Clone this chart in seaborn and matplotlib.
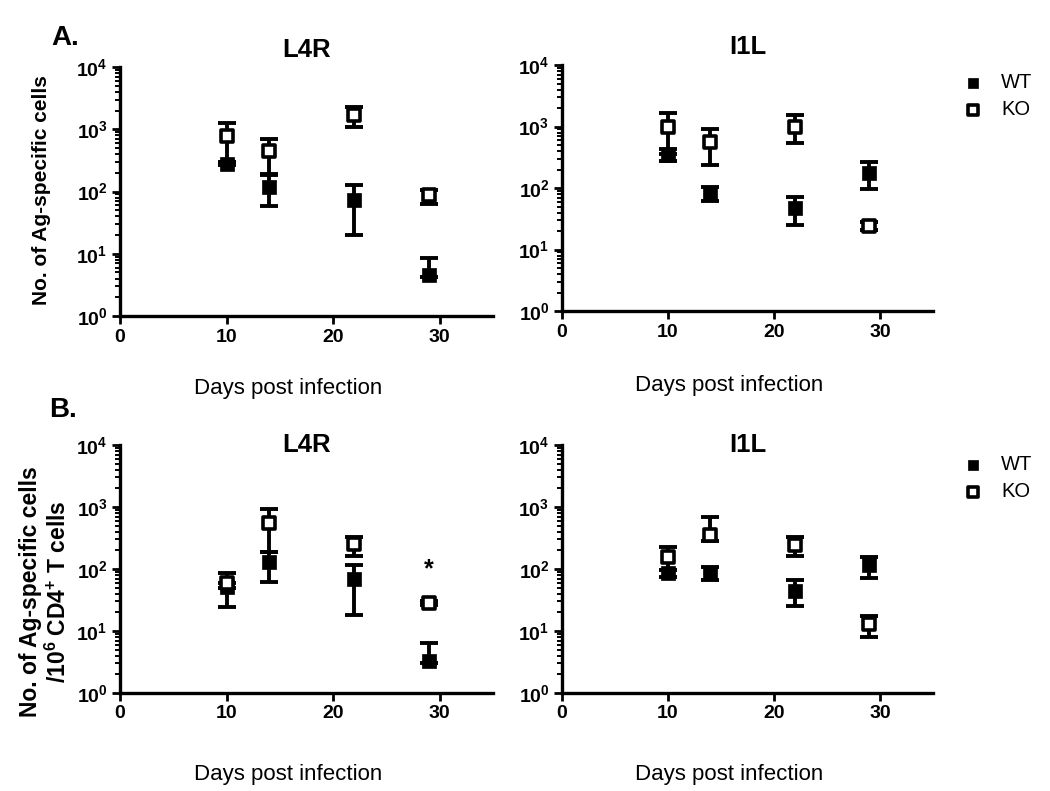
import matplotlib
matplotlib.use('Agg')
import matplotlib.pyplot as plt
import numpy as np
import pandas as pd
import seaborn as sns

# Data (error bar ends given as lo / hi)
days = [10, 14, 22, 29]

# A. number of Ag-specific cells
a_l4r_wt = [280, 120, 72, 4.6]
a_l4r_wt_lo = [265, 58, 20, 4.3]
a_l4r_wt_hi = [300, 185, 125, 8.5]
a_l4r_ko = [780, 440, 1700, 88]
a_l4r_ko_lo = [300, 190, 1100, 62]
a_l4r_ko_hi = [1250, 690, 2300, 105]

a_i1l_wt = [350, 82, 47, 175]
a_i1l_wt_lo = [275, 62, 25, 96]
a_i1l_wt_hi = [425, 105, 72, 270]
a_i1l_ko = [1000, 560, 1000, 24]
a_i1l_ko_lo = [360, 237, 540, 21]
a_i1l_ko_hi = [1650, 900, 1540, 28]

# B. per 10^6 CD4+ T cells
b_l4r_wt = [52, 128, 70, 3.3]
b_l4r_wt_lo = [24, 62, 18, 3.0]
b_l4r_wt_hi = [60, 190, 115, 6.5]
b_l4r_ko = [60, 560, 250, 28]
b_l4r_ko_lo = [50, 190, 160, 26]
b_l4r_ko_hi = [85, 940, 330, 31]

b_i1l_wt = [86, 85, 44, 118]
b_i1l_wt_lo = [74, 66, 25, 72]
b_i1l_wt_hi = [95, 108, 66, 156]
b_i1l_ko = [155, 360, 245, 13]
b_i1l_ko_lo = [95, 280, 165, 8]
b_i1l_ko_hi = [230, 690, 330, 17.5]

x_ticks = [0, 10, 20, 30]
y_ticks = [1, 10, 100, 1000, 10000]
y_tick_labels = [r'$\mathbf{10^{%d}}$' % i for i in range(5)]

sns.set_style('ticks')
plt.rcParams['font.family'] = ['Liberation Sans', 'DejaVu Sans']
plt.rcParams['mathtext.fontset'] = 'custom'
plt.rcParams['mathtext.rm'] = 'Liberation Sans'
plt.rcParams['mathtext.bf'] = 'Liberation Sans:bold'
for key in ['text.color', 'axes.labelcolor', 'xtick.color', 'ytick.color',
            'xtick.labelcolor', 'ytick.labelcolor', 'axes.edgecolor']:
    plt.rcParams[key] = 'black'


def draw_panel(ax, wt, wt_lo, wt_hi, ko, ko_lo, ko_hi, title, title_y, xlabel_y):
    df = pd.DataFrame({
        'day': days * 2,
        'value': wt + ko,
        'lo': wt_lo + ko_lo,
        'hi': wt_hi + ko_hi,
        'group': ['WT'] * len(days) + ['KO'] * len(days),
    })
    for g, sub in df.groupby('group', sort=False):
        ax.errorbar(sub['day'], sub['value'],
                    yerr=[sub['value'] - sub['lo'], sub['hi'] - sub['value']],
                    fmt='none', ecolor='black', elinewidth=2.8,
                    capsize=6.5, capthick=2.8, zorder=2)
    sns.scatterplot(data=df[df['group'] == 'WT'], x='day', y='value', marker='s',
                    color='black', edgecolor='black', s=95, linewidth=0.5,
                    ax=ax, label='WT', zorder=3)
    sns.scatterplot(data=df[df['group'] == 'KO'], x='day', y='value', marker='s',
                    color='white', edgecolor='black', s=82, linewidth=2.6,
                    ax=ax, label='KO', zorder=4)
    if ax.get_legend() is not None:
        ax.get_legend().remove()

    ax.set_yscale('log')
    ax.set_ylim(1, 10000)
    ax.set_xlim(0, 35)
    ax.set_yticks(y_ticks, y_tick_labels)
    ax.set_xticks(x_ticks, [str(t) for t in x_ticks])
    for lab in ax.get_xticklabels():
        lab.set_fontweight('bold')
    ax.tick_params(axis='both', which='major', length=6, width=2, labelsize=14,
                   color='black', labelcolor='black', pad=3)
    ax.tick_params(axis='y', which='minor', length=3.5, width=1.4, color='black')
    ax.tick_params(axis='x', which='minor', length=0)
    for side in ['top', 'right']:
        ax.spines[side].set_visible(False)
    for side in ['left', 'bottom']:
        ax.spines[side].set_linewidth(2.4)
        ax.spines[side].set_color('black')
    ax.set_xlabel('Days post infection', fontsize=16, color='black')
    ax.xaxis.set_label_coords(0.45, xlabel_y)
    ax.set_ylabel('')
    ax.text(0.5, title_y, title, transform=ax.transAxes, ha='center', va='center',
            fontsize=18.5, fontweight='bold', color='black')


fig = plt.figure(figsize=(10.5, 7.91), dpi=100)
ax_a1 = fig.add_axes([0.1143, 0.6005, 0.3552, 0.3148])
ax_a2 = fig.add_axes([0.5352, 0.6066, 0.3533, 0.3112])
ax_b1 = fig.add_axes([0.1143, 0.1239, 0.3552, 0.3135])
ax_b2 = fig.add_axes([0.5352, 0.1239, 0.3533, 0.3135])

draw_panel(ax_a1, a_l4r_wt, a_l4r_wt_lo, a_l4r_wt_hi, a_l4r_ko, a_l4r_ko_lo, a_l4r_ko_hi,
           'L4R', 1.068, -0.25)
draw_panel(ax_a2, a_i1l_wt, a_i1l_wt_lo, a_i1l_wt_hi, a_i1l_ko, a_i1l_ko_lo, a_i1l_ko_hi,
           'I1L', 1.075, -0.26)
draw_panel(ax_b1, b_l4r_wt, b_l4r_wt_lo, b_l4r_wt_hi, b_l4r_ko, b_l4r_ko_lo, b_l4r_ko_hi,
           'L4R', 1.0, -0.285)
draw_panel(ax_b2, b_i1l_wt, b_i1l_wt_lo, b_i1l_wt_hi, b_i1l_ko, b_i1l_ko_lo, b_i1l_ko_hi,
           'I1L', 1.0, -0.285)

# significance mark
ax_b1.text(29, 100, '*', ha='center', va='center', fontsize=18, fontweight='bold')

# panel letters and y labels
fig.text(0.049, 0.952, 'A.', fontsize=20, fontweight='bold', ha='left', va='center')
fig.text(0.047, 0.482, 'B.', fontsize=20, fontweight='bold', ha='left', va='center')
fig.text(0.040, 0.760, 'No. of Ag-specific cells', rotation=90, ha='center', va='center',
         fontsize=15, fontweight='bold')
fig.text(0.043, 0.252, 'No. of Ag-specific cells\n/10$^{\\mathbf{6}}$ CD4$^{\\mathbf{+}}$ T cells',
         rotation=90, ha='center', va='center', multialignment='center',
         fontsize=16.5, fontweight='bold', linespacing=1.2)

# legends
for ax, y in [(ax_a2, 1 - 96 / 791), (ax_b2, 1 - 478 / 791)]:
    handles, labels = ax.get_legend_handles_labels()
    fig.legend(handles, labels, loc='center left', bbox_to_anchor=(0.89, y),
               frameon=False, fontsize=14.5, markerscale=0.75, handletextpad=0.4,
               labelspacing=0.4)

fig.savefig('out.png', dpi=100)
